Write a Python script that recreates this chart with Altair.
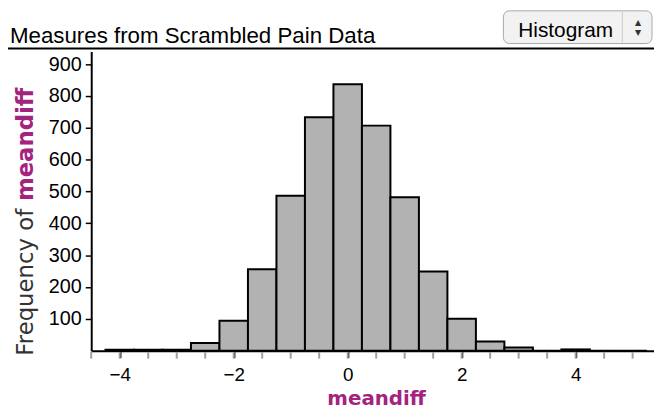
import altair as alt
import pandas as pd

# ---- data ----
bin_centers = [-4.0, -3.5, -3.0, -2.5, -2.0, -1.5, -1.0, -0.5, 0.0, 0.5,
               1.0, 1.5, 2.0, 2.5, 3.0, 3.5, 4.0, 4.5, 5.0]
counts = [3, 3, 3, 24, 94, 256, 487, 733, 837, 707,
          482, 249, 100, 29, 10, 0, 4, 0, 0]
bin_width = 0.5
major_ticks = [-4, -2, 0, 2, 4]
minor_ticks = [-4.5, -4.0, -3.5, -3.0, -2.5, -2.0, -1.5, -1.0, -0.5, 0.0, 0.5,
               1.0, 1.5, 2.0, 2.5, 3.0, 3.5, 4.0, 4.5, 5.0]
y_ticks = [100, 200, 300, 400, 500, 600, 700, 800, 900]
title_text = "Measures from Scrambled Pain Data"
var_name = "meandiff"
y_prefix = "Frequency of"
menu_text = "Histogram"

W, H = 568, 302
MAGENTA = "#a3237e"
FONT = "Liberation Sans"
WIDE = "DejaVu Sans"

df = pd.DataFrame({"center": bin_centers, "count": counts})
df["start"] = df["center"] - bin_width / 2
df["end"] = df["center"] + bin_width / 2

xscale = alt.Scale(domain=[-4.5, 5.375], nice=False, zero=False)
yscale = alt.Scale(domain=[0, 940], nice=False)

bars = alt.Chart(df).mark_rect(
    fill="#b2b2b2", stroke="black", strokeWidth=2
).encode(
    x=alt.X("start:Q", scale=xscale,
            axis=alt.Axis(values=major_ticks, title=None, grid=False,
                          labelFontSize=19, labelPadding=8, tickSize=7,
                          tickWidth=2, tickColor="black", domainWidth=2,
                          domainColor="black", labelColor="black",
                          labelFont=FONT, format="d")),
    x2="end:Q",
    y=alt.Y("count:Q", scale=yscale,
            axis=alt.Axis(values=y_ticks, title=None, grid=False,
                          labelFontSize=20, labelPadding=4, tickSize=6,
                          tickWidth=1.5, tickColor="black", domainWidth=2,
                          domainColor="black", labelColor="black",
                          labelFont=FONT)),
)

minor = alt.Chart(pd.DataFrame({"t": minor_ticks})).mark_rule(
    color="#a0a0a0", strokeWidth=2
).encode(
    x=alt.X("t:Q", scale=xscale),
    y=alt.value(H + 1),
    y2=alt.value(H + 8),
)

one = pd.DataFrame({"a": [0]})

title = alt.Chart(one).mark_text(
    text=title_text, font=FONT, fontSize=22.5, align="left",
    baseline="alphabetic", color="black"
).encode(x=alt.value(-82), y=alt.value(-9))

title_line = alt.Chart(one).mark_rule(color="black", strokeWidth=2).encode(
    x=alt.value(-84), x2=alt.value(W + 2), y=alt.value(-3))

button = alt.Chart(one).mark_rect(
    cornerRadius=6, fill="#f2f2f2", stroke="#a8a8a8", strokeWidth=1
).encode(x=alt.value(416), x2=alt.value(566), y=alt.value(-41), y2=alt.value(-8))

divider = alt.Chart(one).mark_rule(color="#c8c8c8", strokeWidth=1).encode(
    x=alt.value(536), y=alt.value(-40), y2=alt.value(-9))

button_text = alt.Chart(one).mark_text(
    text=menu_text, font=FONT, fontSize=21, align="left",
    baseline="alphabetic", color="black"
).encode(x=alt.value(431), y=alt.value(-15))

up = alt.Chart(one).mark_text(text="▲", fontSize=8, color="#333333",
                              font=WIDE).encode(
    x=alt.value(552), y=alt.value(-29))
down = alt.Chart(one).mark_text(text="▼", fontSize=8, color="#333333",
                                font=WIDE).encode(
    x=alt.value(552), y=alt.value(-19))

x_title = alt.Chart(one).mark_text(
    text=var_name, font=WIDE, fontSize=20, fontWeight="bold",
    color=MAGENTA, align="center", baseline="alphabetic"
).encode(x=alt.value(288), y=alt.value(H + 55))

y_title1 = alt.Chart(one).mark_text(
    text=y_prefix, font=WIDE, fontSize=23, angle=270,
    align="left", baseline="alphabetic", color="#333333"
).encode(x=alt.value(-59), y=alt.value(307))

y_title2 = alt.Chart(one).mark_text(
    text=var_name, font=WIDE, fontSize=23, fontWeight="bold",
    angle=270, align="left", baseline="alphabetic", color=MAGENTA
).encode(x=alt.value(-59), y=alt.value(151))

chart = alt.layer(
    minor, bars, title, title_line, button, divider, button_text, up, down,
    x_title, y_title1, y_title2
).properties(
    width=W, height=H,
    autosize=alt.AutoSizeParams(type="none"),
    padding={"left": 84, "top": 42, "right": 0, "bottom": 58},
).configure_view(stroke=None)

chart.save("out.html", embed_options={"renderer": "svg", "actions": False})
